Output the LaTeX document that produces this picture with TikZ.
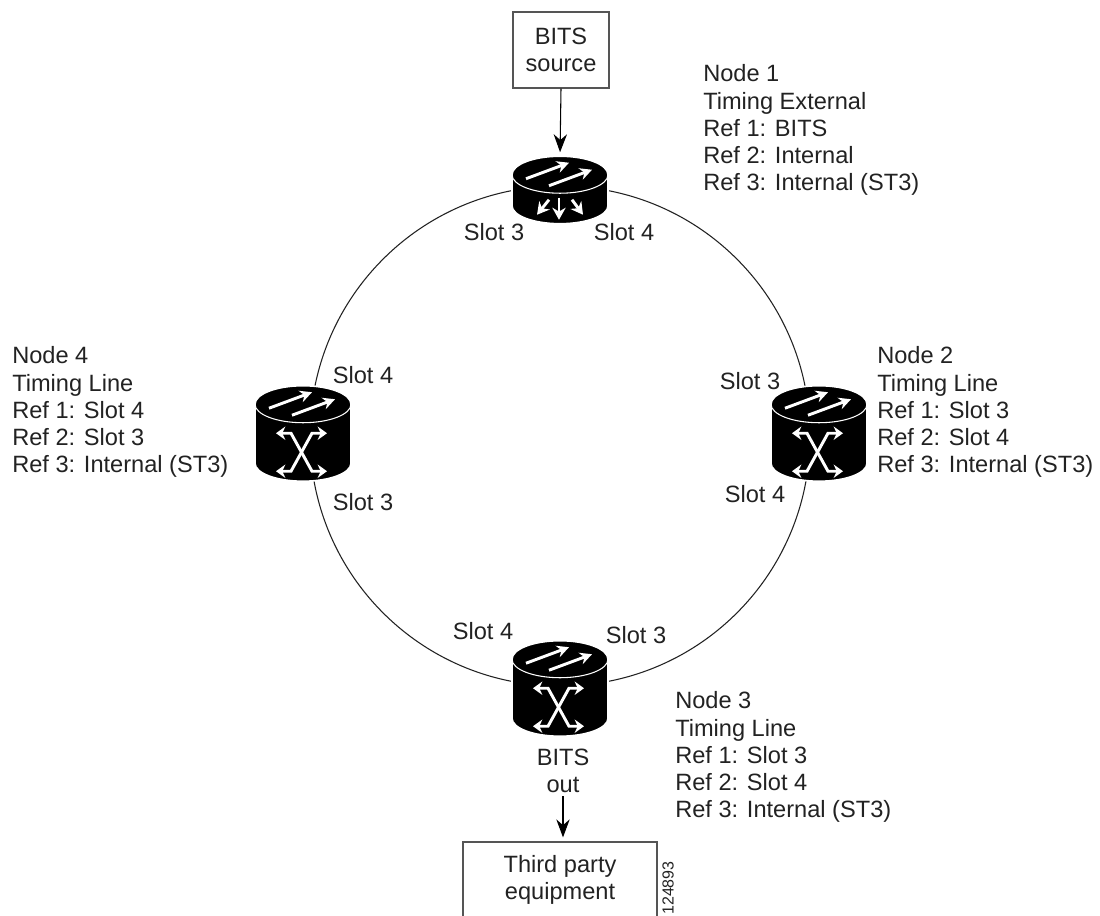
\documentclass[tikz,border=0pt]{standalone}
\usepackage{fontspec}
\setmainfont{Liberation Sans}
\usetikzlibrary{arrows.meta}
\definecolor{inktext}{HTML}{222222}
\definecolor{boxline}{HTML}{555555}

\tikzset{
  nodetext/.style={inner sep=0pt, text=inktext, align=left, anchor=west, font=\fontsize{17.7}{20.3}\selectfont},
  slot/.style={inner sep=0pt, text=inktext, align=center, font=\fontsize{17.7}{20.3}\selectfont},
  box/.style={draw=boxline, line width=0.9pt, align=center, text=inktext, inner sep=0pt, font=\fontsize{17.7}{20.3}\selectfont},
  unit/.style={inner sep=0pt, minimum width=72pt, minimum height=#1},
  signal/.style={line width=0.8pt, shorten >=3pt, -{Stealth[length=13.5pt,width=10pt]}},
  whiteline/.style={white, line width=2.2pt},
  pics/disc/.style={code={
    \fill[black, draw=white, line width=1.2pt] (-48,18.5) -- (-48,18.5+#1) arc[x radius=48, y radius=18, start angle=180, end angle=0] -- (48,18.5) arc[x radius=48, y radius=18.5, start angle=0, end angle=-180] -- cycle;
    \draw[white, line width=0.8pt] (-48,18.5) arc[x radius=48, y radius=18.5, start angle=180, end angle=0];
    \draw[whiteline, -{Stealth[length=9pt,width=9pt]}] (-34,22.5) -- (9,6.5);
    \draw[whiteline, -{Stealth[length=9pt,width=9pt]}] (-11,29.5) -- (32,13.5);
  }},
  pics/cross/.style={code={
    \draw[whiteline, {Stealth[length=7pt,width=10pt]}-{Stealth[length=7pt,width=10pt]}] (-27,47.5) -- (-12,47.5) -- (9,85.5) -- (24,85.5);
    \draw[whiteline, {Stealth[length=7pt,width=10pt]}-{Stealth[length=7pt,width=10pt]}] (24,47.5) -- (9,47.5) -- (-12,85.5) -- (-27,85.5);
  }},
  pics/spread/.style={code={
    \foreach \tox/\fromx/\fromy/\toy in {-23/-11/43.5/58.5, -1/-1/41.5/63.5, 23/12/43.5/58.5}
      \draw[whiteline, -{Stealth[length=9pt,width=10pt]}] (\fromx,\fromy) -- (\tox,\toy);
  }}
}

\begin{document}
\begin{tikzpicture}[x=0.75pt, y=-0.75pt]
    \path[use as bounding box, clip] (0,0) rectangle (1100,916);

    % draw ring
    \coordinate (ring1) at (560,186);
    \coordinate (ring2) at (810,436);
    \coordinate (ring3) at (560,686);
    \coordinate (ring4) at (310,436);
    \foreach \from/\to in {ring1/ring2,ring2/ring3,ring3/ring4,ring4/ring1}
      \draw[line width=0.8pt, inktext] (\from) to[bend left=45] (\to);

    % draw routers
    \node[unit=49.5pt] (router1) at (560,189.5) {};
    \node[unit=72.75pt] (router2) at (819,434.5) {};
    \node[unit=72.75pt] (router3) at (560,689.5) {};
    \node[unit=72.75pt] (router4) at (303,434.5) {};
    \pic at (router1.north) {disc=31};
    \pic at (router1.north) {spread};
    \foreach \n in {2,3,4} {
      \pic at (router\n.north) {disc=59};
      \pic at (router\n.north) {cross};
    }

    % draw boxes
    \node[box, minimum width=72pt, minimum height=57pt] (bits) at (561,50) {BITS\\source};
    \node[box, minimum width=145.5pt, minimum height=57pt] (third) at (560,880) {Third party\\equipment};
    \node[slot] (bitsout) at (563,771) {BITS\\out};

    % draw arrows
    \draw[signal] (bits.south) -- (router1.north);
    \draw[signal, shorten <=2.5pt] (bitsout.south) -- (bitsout.south |- third.north);

    % draw slot labels
    \node[slot] (slot1l) at (494,232) {Slot 3};
    \node[slot] (slot1r) at (624,232) {Slot 4};
    \node[slot] (slot2t) at (750,381) {Slot 3};
    \node[slot] (slot2b) at (755,494) {Slot 4};
    \node[slot] (slot3l) at (483,631) {Slot 4};
    \node[slot] (slot3r) at (636,635) {Slot 3};
    \node[slot] (slot4t) at (363,375) {Slot 4};
    \node[slot] (slot4b) at (363,502) {Slot 3};

    % draw node texts
    \node[nodetext] (text1) at (703,130) {Node 1\\Timing External\\Ref 1: BITS\\Ref 2: Internal\\Ref 3: Internal (ST3)};
    \node[nodetext] (text2) at (877,412) {Node 2\\Timing Line\\Ref 1: Slot 3\\Ref 2: Slot 4\\Ref 3: Internal (ST3)};
    \node[nodetext] (text3) at (675,757) {Node 3\\Timing Line\\Ref 1: Slot 3\\Ref 2: Slot 4\\Ref 3: Internal (ST3)};
    \node[nodetext] (text4) at (12,412) {Node 4\\Timing Line\\Ref 1: Slot 4\\Ref 2: Slot 3\\Ref 3: Internal (ST3)};

    \node[inner sep=0pt, text=inktext, rotate=90, font=\fontsize{12}{14}\selectfont] (figid) at (668,888) {124893};
  \end{tikzpicture}
\end{document}
